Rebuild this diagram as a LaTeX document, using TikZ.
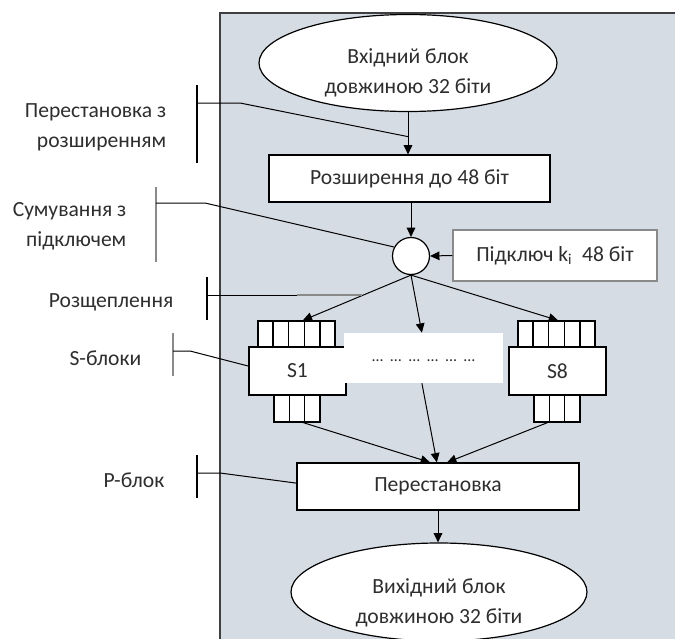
\documentclass[tikz,border=0pt]{standalone}
\usepackage{fontspec}
\setmainfont{Carlito}
\usetikzlibrary{arrows.meta,shapes.geometric,calc}
\definecolor{panel}{HTML}{D6DCE4}
\definecolor{txt}{HTML}{2E2E2E}
\definecolor{brk}{HTML}{8A8A8A}
\begin{document}
\begin{tikzpicture}[x=0.75pt,y=-0.75pt,
  every node/.style={font=\fontsize{16.2}{22.5}\selectfont, text=txt},
  blk/.style={draw=black, fill=white, line width=0.9pt, rectangle, inner sep=0pt},
  comb/.style={draw=black, fill=white, line width=0.9pt, rectangle, inner sep=0pt, minimum height=19.5pt},
  ell/.style={draw=black, fill=white, ellipse, line width=0.9pt, inner sep=0pt},
  arr/.style={-{Triangle[length=7pt,width=6.5pt]}, line width=0.75pt},
  lead/.style={line width=0.75pt},
  brack/.style={line width=1.1pt},
  lbl/.style={anchor=east, align=right}
]
\useasboundingbox (0,0) rectangle (675,639);
% panel
\fill[panel] (220,13) rectangle (675,639);
\draw[line width=0.9pt, black!75] (675,13) -- (220,13) -- (220,639);

% main column
\node[ell, minimum width=223.5pt, minimum height=72.75pt] (in) at (408,63) {};
\node[align=center] (intxt) at (408,72.5) {Вхідний блок\\довжиною 32 біти};
\node[blk, minimum width=210.75pt, minimum height=35.25pt] (exp) at (409.5,178.5) {Розширення до 48 біт};
\node[draw=black, fill=white, circle, line width=0.9pt, minimum size=27.75pt, inner sep=0pt] (sum) at (411,256) {};
\node[draw=brk, fill=white, rectangle, line width=0.9pt, minimum width=153pt, minimum height=38.25pt, inner sep=0pt] (key) at (555,255.5) {Підключ k\textsubscript{i}\ \ 48 біт};

% S1
\node[comb, minimum width=57.75pt] (s1t) at (296.5,334) {};
\foreach \i in {1,...,4}
  \draw[line width=0.9pt] ($(s1t.north west)!\i/5!(s1t.north east)$) -- ($(s1t.south west)!\i/5!(s1t.south east)$);
\node[comb, minimum width=34.5pt, minimum height=20.25pt] (s1b) at (297,408.5) {};
\foreach \i in {1,2}
  \draw[line width=0.9pt] ($(s1b.north west)!\i/3!(s1b.north east)$) -- ($(s1b.south west)!\i/3!(s1b.south east)$);
\node[blk, minimum width=72.75pt, minimum height=36pt] (s1) at (297.5,371) {S1};

% S8
\node[comb, minimum width=57.75pt] (s8t) at (556.5,334) {};
\foreach \i in {1,...,4}
  \draw[line width=0.9pt] ($(s8t.north west)!\i/5!(s8t.north east)$) -- ($(s8t.south west)!\i/5!(s8t.south east)$);
\node[comb, minimum width=34.5pt, minimum height=20.25pt] (s8b) at (557,408.5) {};
\foreach \i in {1,2}
  \draw[line width=0.9pt] ($(s8b.north west)!\i/3!(s8b.north east)$) -- ($(s8b.south west)!\i/3!(s8b.south east)$);
\node[blk, minimum width=72.75pt, minimum height=36pt] (s8) at (557.5,371) {S8};

% middle
\node[fill=white, rectangle, minimum width=119.25pt, minimum height=37.5pt, inner sep=0pt] (mid) at (423.5,358) {};
\node[font=\fontsize{12}{13}\selectfont] (midtxt) at (423.5,361) {…\hspace{5.5pt}…\hspace{5.5pt}…\hspace{5.5pt}…\hspace{5.5pt}…\hspace{5.5pt}…};

\node[blk, minimum width=211.5pt, minimum height=35.25pt] (perm) at (438,486.5) {Перестановка};
\node[ell, minimum width=222pt, minimum height=73.5pt] (out) at (439,592) {};
\node[align=center] (outtxt) at (439,602.5) {Вихідний блок\\довжиною 32 біти};

% arrows
\draw[arr] (in.south) -- (in.south |- exp.north);
\draw[arr] (exp.south -| sum.north) -- (sum.north);
\draw[arr] (key.west) -- (sum.east);
\draw[arr] (sum.south) -- ($(s1t.north west)!0.58!(s1t.north east)$);
\draw[arr] (sum.south) -- ($(mid.north west)!0.49!(mid.north east)$);
\draw[arr] (sum.south) -- ($(s8t.north west)!0.52!(s8t.north east)$);
\draw[arr] ($(s1b.south west)!0.63!(s1b.south east)$) -- ($(perm.north west)!0.472!(perm.north east)$);
\draw[arr] ($(mid.south west)!0.49!(mid.south east)$) -- ($(perm.north west)!0.496!(perm.north east)$);
\draw[arr] ($(s8b.south west)!0.3!(s8b.south east)$) -- ($(perm.north west)!0.532!(perm.north east)$);
\draw[arr] (perm.south) -- (perm.south |- out.north);

% left labels
\node[lbl] (l1) at (171,127) {Перестановка з\\розширенням};
\node[lbl] (l2) at (131,226) {Сумування з\\підключем};
\node[lbl] (l3) at (178,302) {Розщеплення};
\node[lbl] (l4) at (146,358) {S-блоки};
\node[lbl] (l5) at (169,480) {P-блок};

% brackets
\draw[brack] (197,85) -- (197,163);
\draw[brack, brk] (156,187) -- (156,262);
\draw[brack] (207,277) -- (207,320);
\draw[brack, brk] (173,333) -- (173,376);
\draw[brack] (197,455) -- (197,498);

\coordinate (b1) at (197,103);
\coordinate (b2) at (156,203);
\coordinate (b3) at (207,295);
\coordinate (b4) at (173,351);
\coordinate (b5) at (197,473);
\coordinate (b3end) at (362,295);
\coordinate (b3mid) at (297,295);

\draw[lead] (b1) -- (240,103) -- ($(in.south)!0.58!(in.south |- exp.north)$);
\draw[lead] (b2) -- (205,203) -- (sum.152);
\draw[lead] (b3) -- (b3mid);
\draw[line width=1.3pt, brk] (b3mid) -- (b3end);
\draw[lead] (b4) -- (190,351) -- ($(s1.north west)!0.4!(s1.south west)$);
\draw[lead] (b5) -- (220,473) -- ($(perm.north west)!0.43!(perm.south west)$);
\end{tikzpicture}
\end{document}
